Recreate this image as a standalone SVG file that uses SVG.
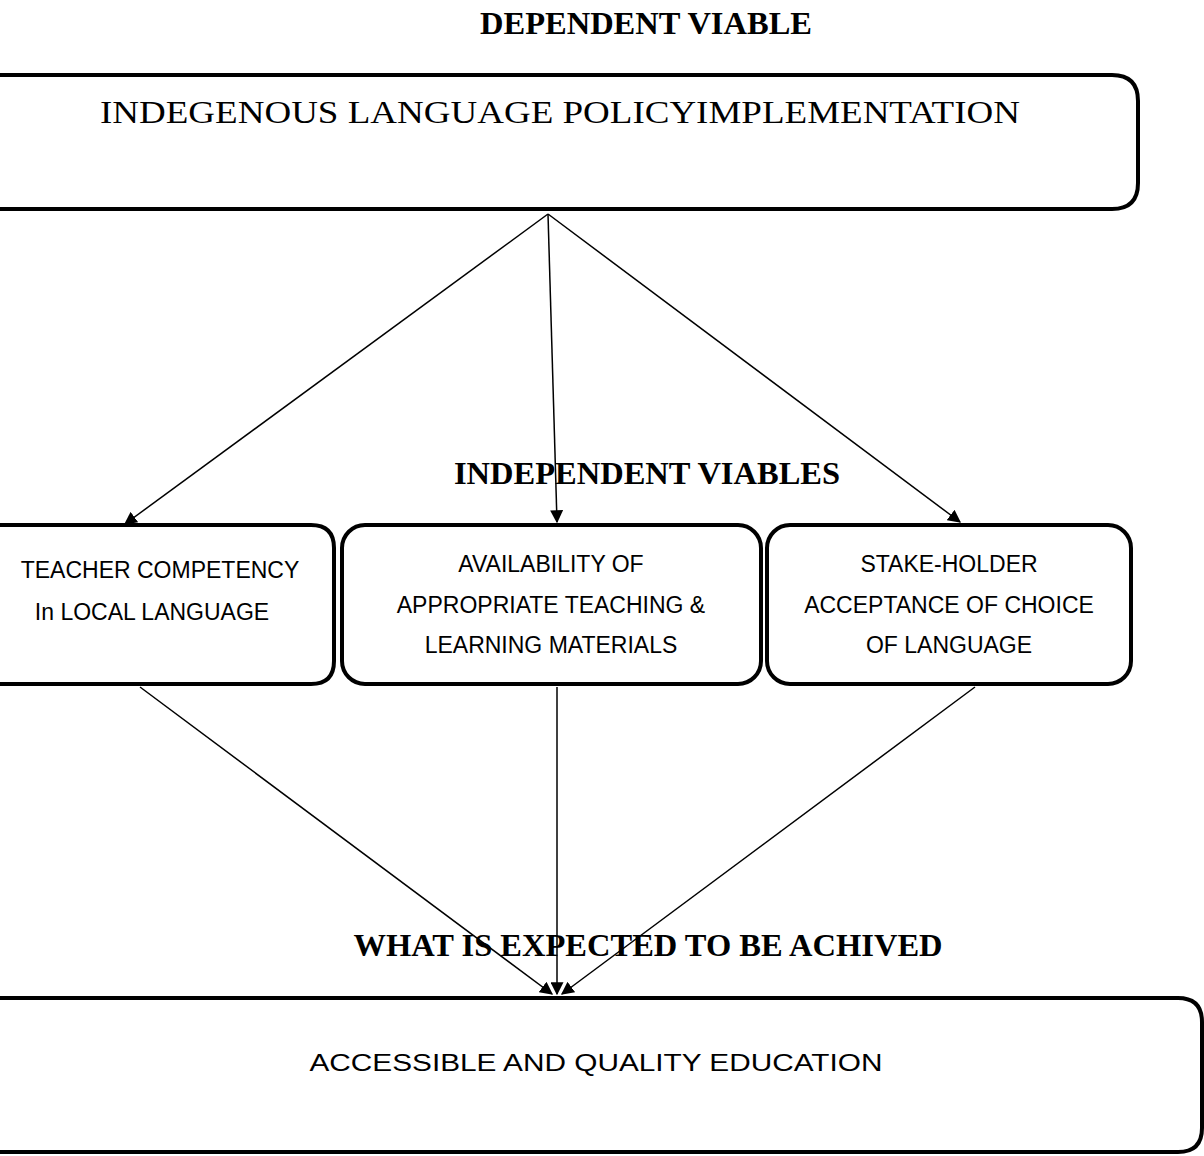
<svg xmlns="http://www.w3.org/2000/svg" width="1204" height="1156" viewBox="0 0 1204 1156">
<style>
.box{fill:#fff;stroke:#000;stroke-width:4}
.h{font-family:"Liberation Serif",serif;font-weight:bold;font-size:32.5px;fill:#000}
.t{font-family:"Liberation Sans",sans-serif;font-size:23px;fill:#000;text-anchor:middle}
.c{stroke:#000;stroke-width:1.5;fill:none}
</style>
<defs>
<marker id="ah" viewBox="0 0 10 10" refX="9" refY="5" markerWidth="13" markerHeight="13" markerUnits="userSpaceOnUse" orient="auto">
<path d="M0,0 L10,5 L0,10 z" fill="#000"/>
</marker>
</defs>
<rect width="1204" height="1156" fill="#fff"/>
<text class="h" x="646" y="34" text-anchor="middle">DEPENDENT VIABLE</text>
<g id="top">
<path class="box" d="M-20,75 H1112 Q1138,75 1138,101 V183 Q1138,209 1112,209 H-20"/>
<text x="100" y="123" font-family="Liberation Serif,serif" font-size="31" textLength="920" lengthAdjust="spacingAndGlyphs">INDEGENOUS LANGUAGE POLICYIMPLEMENTATION</text>
</g>
<text class="h" x="647" y="484" text-anchor="middle">INDEPENDENT VIABLES</text>
<g id="teacher">
<path class="box" d="M-20,525 H311 Q334,525 334,548 V661 Q334,684 311,684 H-20"/>
<text class="t" x="160" y="578">TEACHER COMPETENCY</text>
<text class="t" x="152" y="620">In LOCAL LANGUAGE</text>
</g>
<g id="materials">
<rect class="box" x="342" y="525" width="419" height="159" rx="23"/>
<text class="t" x="551" y="572">AVAILABILITY OF</text>
<text class="t" x="551" y="613">APPROPRIATE TEACHING &amp;</text>
<text class="t" x="551" y="653">LEARNING MATERIALS</text>
</g>
<g id="stakeholder">
<rect class="box" x="767" y="525" width="364" height="159" rx="23"/>
<text class="t" x="949" y="572">STAKE-HOLDER</text>
<text class="t" x="949" y="613">ACCEPTANCE OF CHOICE</text>
<text class="t" x="949" y="653">OF LANGUAGE</text>
</g>
<text class="h" x="648" y="956" text-anchor="middle">WHAT IS EXPECTED TO BE ACHIVED</text>
<g id="bottom">
<path class="box" d="M-20,998 H1178 Q1202,998 1202,1022 V1128 Q1202,1152 1178,1152 H-20"/>
<text class="t" x="596" y="1071" font-size="24" textLength="573" lengthAdjust="spacingAndGlyphs">ACCESSIBLE AND QUALITY EDUCATION</text>
</g>
<g id="connectors">
<line class="c" x1="548" y1="214" x2="125" y2="524" marker-end="url(#ah)"/>
<line class="c" x1="548" y1="214" x2="557" y2="522" marker-end="url(#ah)"/>
<line class="c" x1="548" y1="214" x2="960" y2="522" marker-end="url(#ah)"/>
<line class="c" x1="140" y1="687" x2="552" y2="994" marker-end="url(#ah)"/>
<line class="c" x1="557" y1="687" x2="557" y2="994" marker-end="url(#ah)"/>
<line class="c" x1="975" y1="687" x2="562" y2="994" marker-end="url(#ah)"/>
</g>
</svg>
